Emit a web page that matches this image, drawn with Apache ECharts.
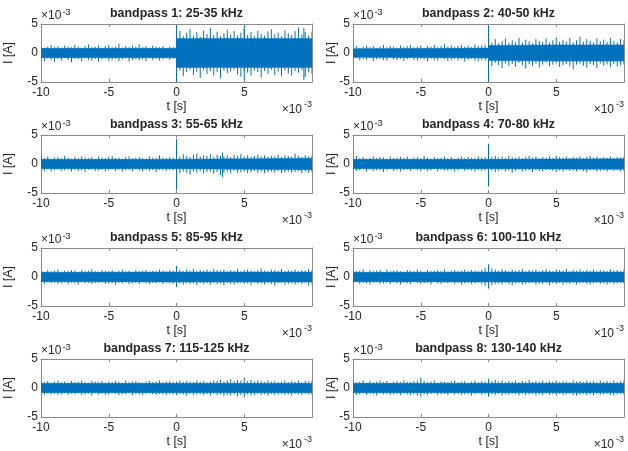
<!DOCTYPE html>
<html>
<head>
<meta charset="utf-8">
<script src="https://cdn.jsdelivr.net/npm/echarts@6/dist/echarts.min.js"></script>
<style>
html,body{margin:0;padding:0;background:#fff;}
#chart{width:628px;height:451px;}
</style>
</head>
<body>
<div id="chart"></div>
<script>
// ---- data (currents in units of 1e-3 A, time in units of 1e-3 s) ----
const titles = ['bandpass 1: 25-35 kHz','bandpass 2: 40-50 kHz','bandpass 3: 55-65 kHz','bandpass 4: 70-80 kHz',
                'bandpass 5: 85-95 kHz','bandpass 6: 100-110 kHz','bandpass 7: 115-125 kHz','bandpass 8: 130-140 kHz'];
const xTicks = [-10, -5, 0, 5];
const yTicks = [-5, 0, 5];
const sampleStart = -10, sampleStep = 0.25; // peak envelope sampled every 0.25e-3 s

// peak (max / min) of the signal in each 0.25e-3 s bin
const upper1 = [1.3,0.9,1.1,1.4,1.0,1.2,0.9,1.3,1.1,1.0,1.4,1.1,0.9,1.2,1.5,1.0,1.1,1.3,0.9,1.2,1.4,1.0,1.1,1.6,0.9,1.2,1.0,1.3,1.1,1.5,1.0,1.2,0.9,1.3,1.1,1.0,1.2,0.9,1.1,1.0,
  3.2,3.8,2.9,3.5,4.1,3.0,3.6,2.8,3.9,3.3,4.3,3.1,3.7,2.9,3.4,4.0,3.2,3.8,3.0,3.5,4.2,3.1,3.6,2.9,3.8,3.3,3.0,3.7,4.1,3.2,3.5,2.9,3.9,3.4,3.1,3.8,4.4,3.2,3.6,3.0,3.7];
const lower1 = [-1.1,-1.4,-0.9,-1.2,-1.5,-1.0,-1.3,-0.9,-1.2,-1.6,-1.0,-1.1,-1.4,-0.9,-1.2,-1.3,-1.0,-1.5,-1.1,-0.9,-1.3,-1.2,-1.0,-1.4,-1.1,-0.9,-1.5,-1.2,-1.0,-1.3,-1.1,-1.4,-0.9,-1.2,-1.0,-1.3,-1.1,-0.9,-1.2,-1.0,
  -3.5,-3.0,-4.0,-3.3,-2.9,-3.8,-3.2,-4.3,-3.0,-3.6,-3.1,-3.9,-3.3,-4.4,-3.0,-3.5,-3.2,-2.9,-3.7,-4.1,-3.1,-3.4,-3.9,-3.0,-3.3,-4.2,-3.1,-3.6,-2.9,-3.8,-3.2,-4.0,-3.0,-3.5,-3.9,-3.1,-3.4,-2.9,-4.1,-3.3,-3.6];
const upper2 = [1.0,1.2,0.9,1.1,1.3,1.0,1.2,0.9,1.1,1.4,1.0,1.2,1.1,0.9,1.3,1.0,1.2,1.4,1.0,1.1,1.3,0.9,1.2,1.1,1.4,1.0,1.2,1.5,1.1,1.3,1.0,1.2,1.4,1.1,1.3,1.0,1.5,1.2,1.3,1.4,
  2.2,1.8,2.4,1.7,2.1,2.5,1.8,2.2,1.9,2.6,1.8,2.3,2.0,1.7,2.4,2.1,1.9,2.5,1.8,2.2,2.7,1.9,2.3,2.0,2.6,1.8,2.2,2.8,1.9,2.4,2.1,1.8,2.5,2.0,2.3,1.9,2.6,2.1,1.8,2.4,2.2];
const lower2 = [-1.1,-0.9,-1.3,-1.0,-1.2,-0.9,-1.4,-1.1,-1.0,-1.2,-1.3,-0.9,-1.1,-1.2,-1.0,-1.4,-1.1,-0.9,-1.2,-1.3,-1.0,-1.1,-1.4,-1.0,-1.2,-1.3,-0.9,-1.1,-1.4,-1.2,-1.0,-1.3,-1.1,-1.5,-1.2,-1.0,-1.3,-1.4,-1.2,-1.3,
  -1.9,-2.3,-1.7,-2.1,-2.6,-1.8,-2.2,-1.9,-2.4,-1.7,-2.1,-2.7,-1.9,-2.2,-1.8,-2.5,-2.0,-1.7,-2.3,-2.0,-1.8,-2.4,-2.1,-1.9,-2.3,-2.8,-2.0,-1.8,-2.2,-2.5,-1.9,-2.1,-2.6,-1.8,-2.2,-2.0,-2.4,-1.9,-2.3,-2.1,-2.0];
const upper3 = [1.2,1.0,1.3,0.9,1.1,1.2,1.0,1.4,1.1,0.9,1.2,1.0,1.3,1.1,1.0,1.2,0.9,1.3,1.1,1.0,1.2,1.4,1.0,1.1,0.9,1.2,1.3,1.0,1.1,1.2,1.0,0.9,1.3,1.1,1.0,1.5,1.1,1.0,1.2,1.1,
  1.5,1.3,1.7,1.4,1.2,1.6,1.8,1.3,1.5,1.4,1.7,1.2,1.6,1.4,1.3,1.5,1.2,1.6,1.4,1.7,1.3,1.5,1.2,1.4,1.6,1.3,1.5,1.2,1.4,1.3,1.6,1.2,1.5,1.4,1.3,1.8,1.4,1.2,1.5,1.3,1.4];
const lower3 = [-1.0,-1.2,-0.9,-1.3,-1.1,-1.0,-1.2,-1.1,-0.9,-1.3,-1.0,-1.2,-1.1,-1.4,-1.0,-0.9,-1.2,-1.1,-1.0,-1.3,-1.1,-0.9,-1.2,-1.0,-1.3,-1.1,-1.0,-1.2,-0.9,-1.1,-1.3,-1.0,-1.2,-1.1,-1.4,-1.0,-1.1,-1.2,-1.0,-1.1,
  -1.4,-1.6,-1.3,-1.5,-1.8,-1.3,-1.5,-1.2,-1.6,-1.4,-1.3,-1.7,-1.4,-1.9,-1.5,-1.3,-1.6,-1.2,-1.5,-1.4,-1.3,-1.6,-1.4,-1.2,-1.5,-1.3,-1.6,-1.4,-1.3,-1.5,-1.2,-1.6,-1.4,-1.3,-1.5,-1.4,-1.2,-1.6,-1.3,-1.5,-1.4];
const upper4 = [1.1,1.4,1.0,1.2,0.9,1.1,1.3,1.0,1.2,1.1,0.9,1.3,1.0,1.1,1.2,1.0,1.3,0.9,1.1,1.2,1.0,1.4,1.1,0.9,1.2,1.0,1.1,1.3,1.0,1.2,0.9,1.1,1.3,1.0,1.2,1.1,1.0,1.3,1.1,1.2,
  1.5,1.2,1.4,1.1,1.3,1.0,1.4,1.2,1.1,1.3,1.0,1.2,1.4,1.1,1.3,1.0,1.2,1.1,1.3,1.0,1.4,1.2,1.1,1.3,1.0,1.2,1.1,1.3,1.0,1.2,1.4,1.1,1.3,1.0,1.2,1.1,1.3,1.0,1.2,1.1,1.3];
const lower4 = [-1.0,-1.2,-1.1,-0.9,-1.3,-1.0,-1.2,-1.1,-1.0,-1.4,-1.1,-0.9,-1.2,-1.0,-1.3,-1.1,-1.0,-1.2,-0.9,-1.1,-1.3,-1.0,-1.2,-1.1,-0.9,-1.3,-1.0,-1.1,-1.2,-1.0,-1.3,-1.1,-0.9,-1.2,-1.0,-1.1,-1.3,-1.0,-1.2,-1.1,
  -1.3,-1.1,-1.4,-1.2,-1.0,-1.3,-1.1,-1.5,-1.2,-1.0,-1.3,-1.2,-1.1,-1.4,-1.0,-1.2,-1.3,-1.1,-1.0,-1.2,-1.4,-1.1,-1.3,-1.0,-1.2,-1.1,-1.3,-1.0,-1.2,-1.4,-1.1,-1.0,-1.3,-1.2,-1.1,-1.3,-1.0,-1.2,-1.1,-1.3,-1.2];
const upper5 = [1.1,0.9,1.2,1.0,1.1,1.3,0.9,1.1,1.0,1.2,1.1,0.9,1.2,1.0,1.1,1.3,1.0,0.9,1.2,1.1,1.0,1.2,0.9,1.1,1.3,1.0,1.1,0.9,1.2,1.0,1.1,1.2,0.9,1.1,1.0,1.3,1.1,1.0,1.2,1.1,
  1.9,1.2,1.0,1.3,1.1,1.4,1.0,1.2,1.1,1.3,1.0,1.4,1.2,1.1,1.3,1.0,1.2,1.1,1.4,1.0,1.2,1.3,1.1,1.0,1.2,1.5,1.1,1.0,1.3,1.2,1.1,1.4,1.0,1.2,1.1,1.3,1.0,1.2,1.1,1.4,1.2];
const lower5 = [-1.0,-1.2,-0.9,-1.1,-1.0,-1.2,-1.1,-0.9,-1.2,-1.0,-1.1,-1.3,-0.9,-1.1,-1.0,-1.2,-1.1,-1.0,-0.9,-1.2,-1.1,-1.0,-1.3,-1.0,-1.1,-0.9,-1.2,-1.1,-1.0,-1.2,-0.9,-1.1,-1.2,-1.0,-1.1,-0.9,-1.2,-1.0,-1.1,-1.2,
  -1.7,-1.1,-1.3,-1.0,-1.2,-1.1,-1.4,-1.0,-1.2,-1.1,-1.3,-1.0,-1.2,-1.1,-1.4,-1.0,-1.2,-1.3,-1.1,-1.0,-1.2,-1.1,-1.4,-1.0,-1.2,-1.1,-1.3,-1.0,-1.2,-1.5,-1.1,-1.0,-1.3,-1.2,-1.1,-1.3,-1.0,-1.2,-1.1,-1.5,-1.2];
const upper6 = [1.2,1.0,1.1,1.3,0.9,1.2,1.0,1.1,1.2,0.9,1.3,1.0,1.1,1.2,1.0,0.9,1.2,1.1,1.0,1.3,1.1,0.9,1.2,1.0,1.1,1.2,1.0,1.3,0.9,1.1,1.2,1.0,1.1,1.3,1.0,1.2,1.1,1.0,1.3,1.6,
  2.2,1.5,1.3,1.1,1.4,1.2,1.0,1.3,1.1,1.2,1.4,1.0,1.2,1.1,1.3,1.0,1.2,1.4,1.1,1.0,1.3,1.2,1.1,1.4,1.0,1.2,1.1,1.3,1.0,1.2,1.1,1.3,1.0,1.2,1.1,1.0,1.3,1.1,1.2,1.0,1.3];
const lower6 = [-1.1,-0.9,-1.2,-1.0,-1.1,-1.3,-1.0,-0.9,-1.2,-1.1,-1.0,-1.2,-0.9,-1.1,-1.3,-1.0,-1.1,-1.2,-0.9,-1.0,-1.2,-1.1,-1.0,-1.3,-0.9,-1.1,-1.2,-1.0,-1.1,-0.9,-1.2,-1.0,-1.3,-1.1,-1.0,-1.2,-1.1,-0.9,-1.2,-1.5,
  -2.0,-1.4,-1.2,-1.1,-1.3,-1.0,-1.2,-1.4,-1.1,-1.0,-1.3,-1.2,-1.1,-1.0,-1.3,-1.1,-1.2,-1.0,-1.4,-1.1,-1.2,-1.0,-1.3,-1.1,-1.2,-1.0,-1.3,-1.1,-1.0,-1.2,-1.3,-1.1,-1.0,-1.2,-1.1,-1.3,-1.0,-1.2,-1.1,-1.0,-1.2];
const upper7 = [1.1,1.0,1.2,0.9,1.1,1.3,1.0,1.1,0.9,1.2,1.0,1.1,1.3,1.0,0.9,1.2,1.1,1.0,1.2,0.9,1.1,1.0,1.2,1.1,0.9,1.3,1.0,1.1,1.2,1.0,0.9,1.1,1.2,1.0,1.1,1.3,1.0,1.1,1.2,1.0,
  1.1,1.3,1.0,1.2,1.1,1.0,1.3,1.1,1.2,1.0,1.1,1.3,1.2,1.4,1.1,1.3,1.5,1.2,1.4,1.3,1.8,1.2,1.4,1.1,1.3,1.2,1.0,1.3,1.1,1.2,1.0,1.1,1.3,1.0,1.2,1.1,1.3,1.0,1.2,1.1,1.2];
const lower7 = [-1.0,-1.2,-0.9,-1.1,-1.0,-1.2,-1.1,-0.9,-1.2,-1.0,-1.1,-0.9,-1.2,-1.1,-1.0,-1.3,-0.9,-1.1,-1.0,-1.2,-1.1,-0.9,-1.0,-1.2,-1.1,-1.0,-0.9,-1.2,-1.0,-1.1,-1.2,-1.0,-0.9,-1.1,-1.2,-1.0,-1.1,-1.2,-1.0,-1.1,
  -1.2,-1.0,-1.1,-1.3,-1.0,-1.2,-1.1,-1.0,-1.2,-1.1,-1.3,-1.0,-1.2,-1.1,-1.4,-1.2,-1.3,-1.1,-1.4,-1.2,-1.6,-1.1,-1.3,-1.2,-1.0,-1.2,-1.1,-1.3,-1.0,-1.2,-1.1,-1.0,-1.2,-1.1,-1.3,-1.0,-1.1,-1.2,-1.0,-1.1,-1.2];
const upper8 = [1.2,1.0,1.1,1.3,0.9,1.2,1.0,1.1,1.3,1.0,1.2,0.9,1.1,1.2,1.0,1.3,1.1,1.0,1.2,1.3,1.8,1.2,1.0,1.1,1.3,0.9,1.2,1.1,1.0,1.2,1.3,1.0,1.1,1.2,0.9,1.1,1.3,1.0,1.2,1.1,
  1.6,1.2,1.4,1.1,1.3,1.0,1.2,1.1,1.3,1.0,1.2,1.1,1.4,1.0,1.2,1.1,1.3,1.0,1.2,1.1,1.3,1.0,1.2,1.1,1.0,1.3,1.1,1.2,1.0,1.3,1.1,1.2,1.0,1.3,1.1,1.2,1.0,1.3,1.1,1.2,1.3];
const lower8 = [-1.0,-1.2,-1.1,-0.9,-1.2,-1.0,-1.1,-1.3,-0.9,-1.1,-1.0,-1.2,-1.1,-1.0,-1.2,-0.9,-1.1,-1.2,-1.0,-1.3,-1.5,-1.1,-1.2,-1.0,-0.9,-1.2,-1.1,-1.0,-1.2,-0.9,-1.1,-1.0,-1.2,-1.1,-1.0,-1.3,-1.1,-0.9,-1.2,-1.0,
  -1.5,-1.1,-1.2,-1.0,-1.3,-1.1,-1.2,-1.0,-1.1,-1.3,-1.0,-1.2,-1.1,-1.0,-1.3,-1.1,-1.2,-1.0,-1.2,-1.1,-1.3,-1.0,-1.2,-1.1,-1.0,-1.2,-1.3,-1.1,-1.0,-1.2,-1.1,-1.3,-1.0,-1.2,-1.1,-1.0,-1.2,-1.3,-1.1,-1.0,-1.2];

// dense core band of each signal (breakpoint times, +/- level)
const coreTimes1 = [-10, -0.02, 0, 10],       coreLevel1 = [0.8, 0.8, 2.5, 2.5];
const coreTimes2 = [-10, -3, 0, 0.02, 5, 10],  coreLevel2 = [0.75, 0.8, 0.85, 1.3, 1.4, 1.4];
const coreTimes3 = [-10, -0.02, 0, 10],       coreLevel3 = [0.8, 0.8, 1.0, 1.0];
const coreTimes4 = [-10, -0.02, 0, 10],       coreLevel4 = [0.8, 0.8, 0.9, 0.9];
const coreTimes5 = [-10, 0, 10],              coreLevel5 = [0.8, 0.85, 0.85];
const coreTimes6 = [-10, 0, 10],              coreLevel6 = [0.8, 0.85, 0.85];
const coreTimes7 = [-10, 0, 10],              coreLevel7 = [0.8, 0.8, 0.8];
const coreTimes8 = [-10, 0, 10],              coreLevel8 = [0.8, 0.8, 0.8];

// isolated transient spikes (time, peak high, peak low)
const spikeTimes1 = [0, 5, 9.4],  spikeHigh1 = [4.7, 4.7, 4.3], spikeLow1 = [-5.0, -4.7, -4.7];
const spikeTimes2 = [0],          spikeHigh2 = [4.8],           spikeLow2 = [-5.0];
const spikeTimes3 = [0, 3.4],     spikeHigh3 = [4.3, 2.0],      spikeLow3 = [-4.4, -2.3];
const spikeTimes4 = [0],          spikeHigh4 = [3.5],           spikeLow4 = [-3.9];

const uppers = [upper1, upper2, upper3, upper4, upper5, upper6, upper7, upper8];
const lowers = [lower1, lower2, lower3, lower4, lower5, lower6, lower7, lower8];
const coreT = [coreTimes1, coreTimes2, coreTimes3, coreTimes4, coreTimes5, coreTimes6, coreTimes7, coreTimes8];
const coreV = [coreLevel1, coreLevel2, coreLevel3, coreLevel4, coreLevel5, coreLevel6, coreLevel7, coreLevel8];
const spikeT = [spikeTimes1, spikeTimes2, spikeTimes3, spikeTimes4, [], [], [], []];
const spikeH = [spikeHigh1, spikeHigh2, spikeHigh3, spikeHigh4, [], [], [], []];
const spikeL = [spikeLow1, spikeLow2, spikeLow3, spikeLow4, [], [], [], []];

// ---- layout ----
const colLeft = [41, 353], plotW = 271;
const rowTop = [24, 135, 248, 359], plotH = 58;
const BLUE = '#0072BD', AXC = '#8a8a8a', TXT = '#262626';
const FONT = '"Liberation Sans", Arial, Helvetica, sans-serif';

function segRender(params, api) {
  const p1 = api.coord([api.value(0), api.value(1)]);
  const p2 = api.coord([api.value(0), api.value(2)]);
  const cs = params.coordSys;
  return {type: 'line', shape: {x1: p1[0], y1: p1[1], x2: p2[0], y2: p2[1]},
    style: {stroke: BLUE, lineWidth: 1},
    clipPath: {type: 'rect', shape: {x: cs.x, y: cs.y, width: cs.width, height: cs.height}}};
}

const grids = [], xAxes = [], yAxes = [], series = [], graphics = [];
for (let k = 0; k < 8; k++) {
  const col = k % 2, row = Math.floor(k / 2);
  const L = colLeft[col], T = rowTop[row];
  grids.push({left: L, top: T, width: plotW, height: plotH, show: false});
  const baseX = {gridIndex: k, type: 'value', min: xTicks[0], max: 10, interval: 5,
    splitLine: {show: false},
    axisLine: {show: true, onZero: false, lineStyle: {color: AXC, width: 1}},
    axisTick: {show: true, inside: true, length: 3, lineStyle: {color: AXC}}};
  xAxes.push(Object.assign({}, baseX, {position: 'bottom',
    axisLabel: {show: true, color: TXT, fontSize: 12, fontFamily: FONT, margin: 5, showMaxLabel: false}}));
  xAxes.push(Object.assign({}, baseX, {position: 'top', axisLabel: {show: false}}));
  const baseY = {gridIndex: k, type: 'value', min: yTicks[0], max: yTicks[2], interval: 5,
    splitLine: {show: false},
    axisLine: {show: true, onZero: false, lineStyle: {color: AXC, width: 1}},
    axisTick: {show: true, inside: true, length: 3, lineStyle: {color: AXC}}};
  yAxes.push(Object.assign({}, baseY, {position: 'left',
    axisLabel: {show: true, color: TXT, fontSize: 12, fontFamily: FONT, margin: 3}}));
  yAxes.push(Object.assign({}, baseY, {position: 'right', axisLabel: {show: false}}));

  // dense core band
  const coreUp = coreT[k].map((t, i) => [t, coreV[k][i]]);
  const coreLo = coreT[k].map((t, i) => [t, -coreV[k][i]]);
  [coreUp, coreLo].forEach(d => series.push({type: 'line', xAxisIndex: 2 * k, yAxisIndex: 2 * k, data: d,
    symbol: 'none', silent: true, animation: false,
    lineStyle: {color: BLUE, width: 0.5}, areaStyle: {color: BLUE, opacity: 1, origin: 0}}));
  // peak excursions per bin + transients, as thin vertical strokes
  const segs = uppers[k].map((v, i) => [sampleStart + i * sampleStep, lowers[k][i], v]);
  spikeT[k].forEach((t, j) => segs.push([t, spikeL[k][j], spikeH[k][j]]));
  series.push({type: 'custom', xAxisIndex: 2 * k, yAxisIndex: 2 * k, data: segs,
    renderItem: segRender, silent: true, animation: false});

  const txt = (x, y, text, font, align, rot) => graphics.push({type: 'text', x: x, y: y,
    rotation: rot || 0, silent: true,
    style: {text: text, font: font, fill: TXT, textAlign: align, textVerticalAlign: 'middle',
            align: align, verticalAlign: 'middle'}});
  txt(L + plotW / 2, T - 10, titles[k], 'bold 12.4px ' + FONT, 'center');
  txt(L, T - 8, '×10', '12px ' + FONT, 'left');
  txt(L + 21.5, T - 11.5, '-3', '9px ' + FONT, 'left');
  txt(L + plotW - 10, T + plotH + 27.5, '×10', '12px ' + FONT, 'right');
  txt(L + plotW, T + plotH + 23, '-3', '9px ' + FONT, 'right');
  txt(L + plotW / 2, T + plotH + 25, 't [s]', '12.4px ' + FONT, 'center');
  txt(col === 0 ? 9 : 332, T + plotH / 2, 'I [A]', '12.4px ' + FONT, 'center', Math.PI / 2);
}

const chart = echarts.init(document.getElementById('chart'), null, {renderer: 'canvas'});
chart.setOption({
  backgroundColor: '#ffffff',
  animation: false,
  grid: grids, xAxis: xAxes, yAxis: yAxes, series: series, graphic: graphics
});
</script>
</body>
</html>
